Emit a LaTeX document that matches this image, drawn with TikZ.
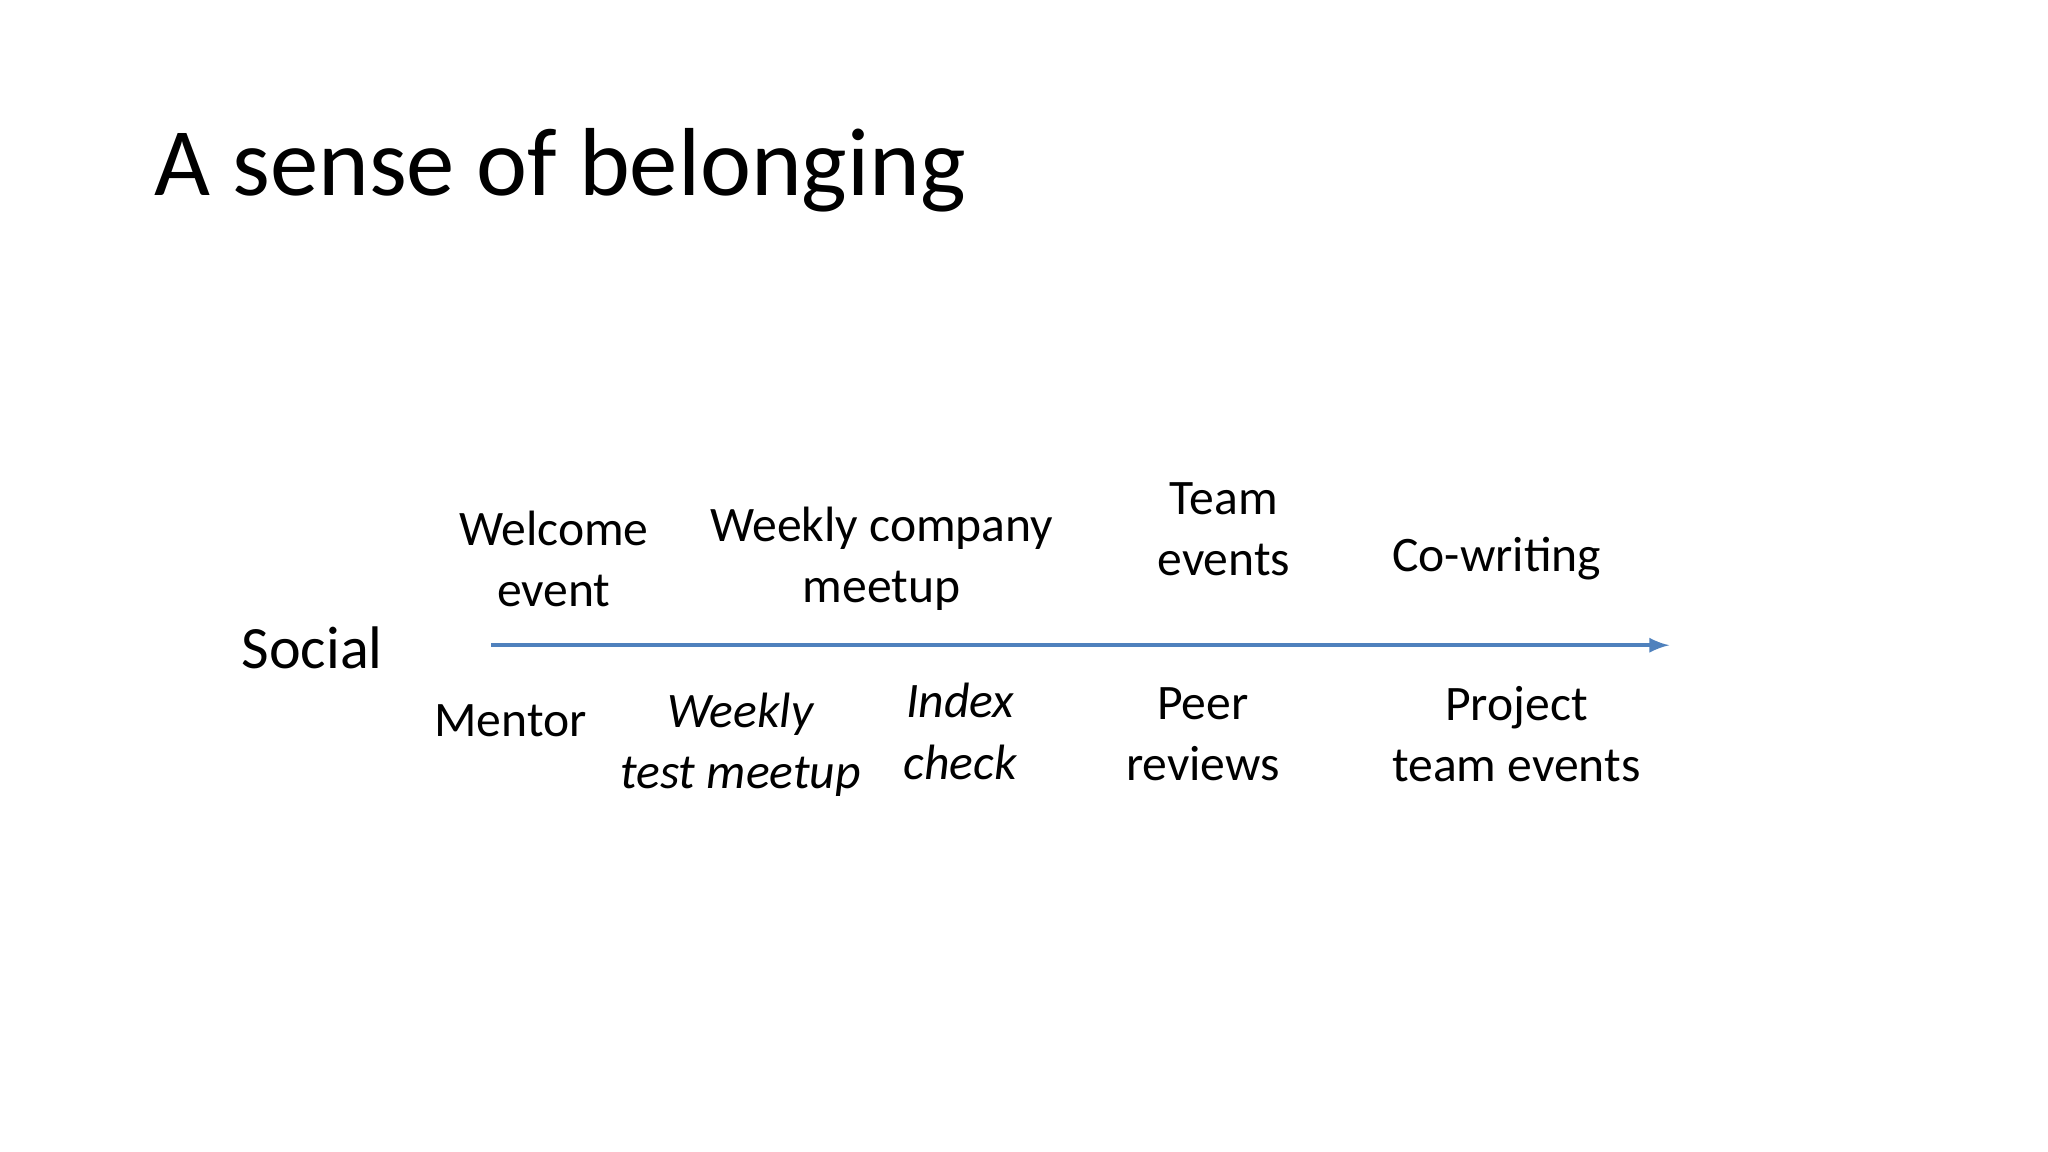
\documentclass[tikz,border=0pt]{standalone}
\usepackage{fontspec}
\setmainfont{Carlito}
\begin{document}
\begin{tikzpicture}[x=0.5pt,y=-0.5pt,
  lbl/.style={align=center,font=\fontsize{19}{23.5}\selectfont,inner sep=0pt},
  ilbl/.style={lbl,font=\fontsize{19}{23.5}\selectfont\itshape}]
\useasboundingbox[fill=white] (0,0) rectangle (1568,882);
\node[anchor=west,inner sep=0pt,font=\fontsize{37}{44}\selectfont] (title) at (118,130) {A sense of belonging};
\node[inner sep=0pt,font=\fontsize{23}{28}\selectfont] (social) at (239,496) {Social};
\coordinate (a0) at (376,494);
\coordinate (a1) at (1278,494);
\draw[color={rgb,255:red,79;green,129;blue,189},line width=1.6pt,-latex] (a0) -- (a1);
\node[lbl] (welcome) at (424,428) {Welcome\\event};
\node[lbl] (wcm) at (675,428) {Weekly company\\meetup};
\node[lbl] (team) at (937,405) {Team\\ events};
\node[lbl] (cow) at (1146,428) {Co-writing};
\node[lbl] (mentor) at (391,552) {Mentor};
\node[ilbl] (wtm) at (567,570) {Weekly\\test meetup};
\node[ilbl] (idx) at (735,560) {Index\\check};
\node[lbl] (peer) at (921,562) {Peer\\reviews};
\node[lbl] (proj) at (1161,562) {Project\\team events};
\end{tikzpicture}
\end{document}
